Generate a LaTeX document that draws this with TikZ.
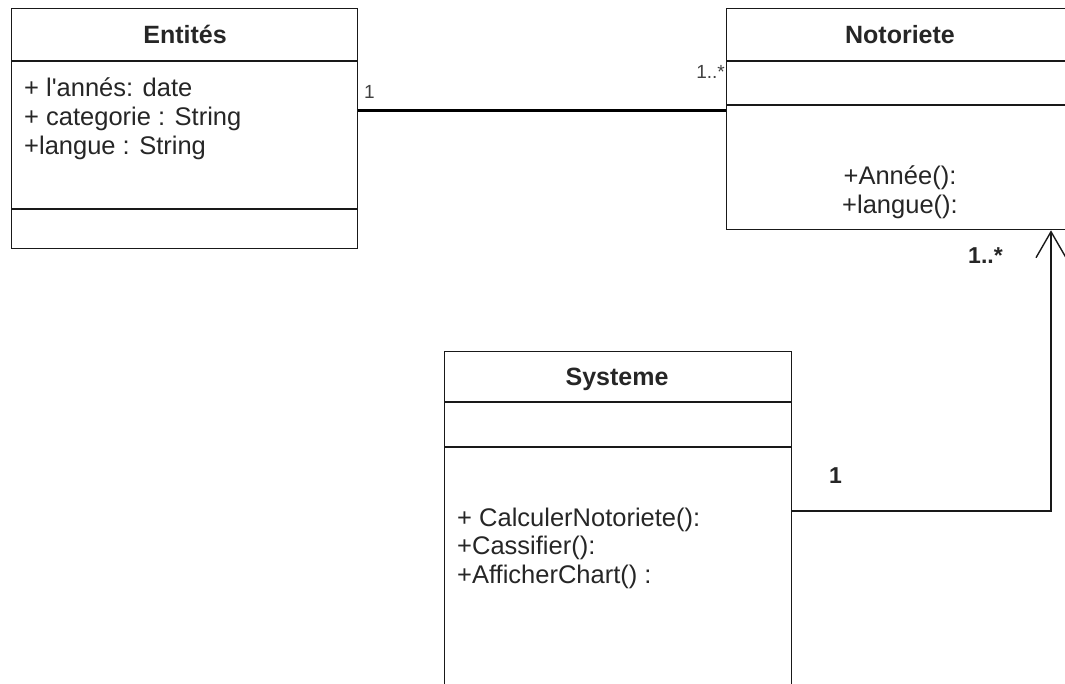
\documentclass[tikz,border=0pt]{standalone}
\usepackage{fontspec}
\setmainfont{Liberation Sans}[Ligatures=TeXOff]
\usetikzlibrary{arrows.meta,calc}
\begin{document}
\begin{tikzpicture}[x=1pt,y=-1pt,
  classbox/.style={draw=black!90, line width=1.3pt, rectangle, inner sep=0pt, anchor=north west},
  divider/.style={draw=black!90, line width=1.3pt},
  title/.style={font=\fontsize{25}{30}\selectfont\bfseries, text=black!85, inner sep=0pt, anchor=base},
  member/.style={font=\fontsize{25.5}{29}\selectfont, text=black!85, inner sep=0pt, anchor=base west},
  method/.style={font=\fontsize{25.5}{29}\selectfont, text=black!85, inner sep=0pt, anchor=base},
  smalllabel/.style={font=\fontsize{19}{22}\selectfont, text=black!75, inner sep=0pt},
  boldlabel/.style={font=\fontsize{23}{27}\selectfont\bfseries, text=black!85, inner sep=0pt, anchor=base west},
  assoc/.style={draw=black, line width=3pt},
  nav/.style={draw=black!90, line width=1.4pt, -{Straight Barb[length=26pt,width=30pt,line width=1.4pt]}}
]
\useasboundingbox (0,0) rectangle (1065,683);
\clip (0,0) rectangle (1065,683);

% class frames
\node[classbox, minimum width=346pt, minimum height=240pt] (ent) at (11,8) {};
\node[classbox, minimum width=348pt, minimum height=221pt] (not) at (726,8) {};
\node[classbox, minimum width=347pt, minimum height=360pt] (sys) at (444,351) {};

% compartment dividers
\draw[divider] ($(ent.north west)+(0,53)$) -- ($(ent.north east)+(0,53)$);
\draw[divider] ($(ent.north west)+(0,201)$) -- ($(ent.north east)+(0,201)$);
\draw[divider] ($(not.north west)+(0,53)$) -- ($(not.north east)+(0,53)$);
\draw[divider] ($(not.north west)+(0,97)$) -- ($(not.north east)+(0,97)$);
\draw[divider] ($(sys.north west)+(0,51)$) -- ($(sys.north east)+(0,51)$);
\draw[divider] ($(sys.north west)+(0,96)$) -- ($(sys.north east)+(0,96)$);

% Entités
\node[title] (entT) at (185,43) {Entités};
\node[member] (entA1) at (24,96) {+ l'annés: date};
\node[member] (entA2) at (24,125) {+ categorie : String};
\node[member] (entA3) at (24,154) {+langue : String};

% Notoriete
\node[title] (notT) at (900,43) {Notoriete};
\node[method] (notM1) at (900,184) {+Année():};
\node[method] (notM2) at (900,213) {+langue():};

% Systeme
\node[title] (sysT) at (617,385) {Systeme};
\node[member] (sysM1) at (457,526) {+ CalculerNotoriete():};
\node[member] (sysM2) at (457,554) {+Cassifier():};
\node[member] (sysM3) at (457,583) {+AfficherChart() :};

% association Entités -- Notoriete
\coordinate (row1) at (0,110);
\draw[assoc] (ent.east |- row1) -- (not.west |- row1);
\node[smalllabel, anchor=base west] (m1) at (364,98) {1};
\node[smalllabel, anchor=base east] (m2) at (725,78) {1..*};

% navigable association Systeme -> Notoriete
\coordinate (row2) at (0,511);
\coordinate (col2) at (1051,0);
\draw[nav] (sys.east |- row2) -| (not.south -| col2);
\node[boldlabel] (m3) at (829,483) {1};
\node[boldlabel] (m4) at (968,263) {1..*};
\end{tikzpicture}
\end{document}
